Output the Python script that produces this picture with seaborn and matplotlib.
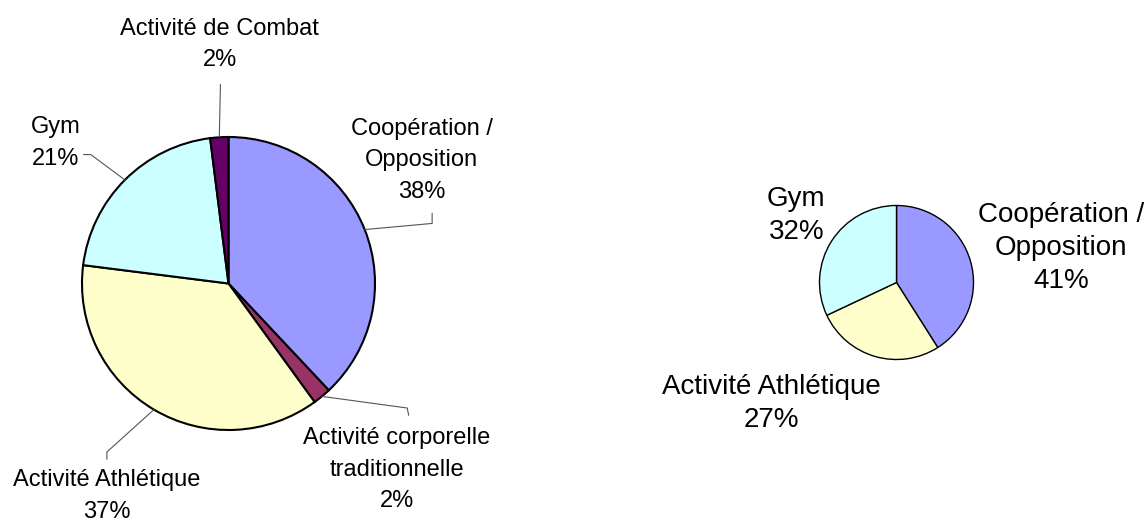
import numpy as np
import matplotlib
matplotlib.use('Agg')
import matplotlib.pyplot as plt
import seaborn as sns

# left pie: all activities
left_labels = ['Coopération /\nOpposition', 'Activité corporelle\ntraditionnelle',
               'Activité Athlétique', 'Gym', 'Activité de Combat']
left_values = [38, 2, 37, 21, 2]
left_colors = ['#9999FF', '#993366', '#FFFFCC', '#CCFFFF', '#660066']

# right pie: three main activities
right_labels = ['Coopération /\nOpposition', 'Activité Athlétique', 'Gym']
right_values = [41, 27, 32]
right_colors = ['#9999FF', '#FFFFCC', '#CCFFFF']

sns.set_style('white')
plt.rcParams['font.family'] = ['Liberation Sans', 'DejaVu Sans']
plt.rcParams['text.color'] = 'black'

W, H = 1147, 522
fig = plt.figure(figsize=(W / 100, H / 100), dpi=100)


def pie_axes(cx, cy, r):
    # cx, cy, r in pixels (top-left origin)
    return fig.add_axes([(cx - r) / W, (H - cy - r) / H, 2 * r / W, 2 * r / H])


def draw_pie(ax, values, colors, lw):
    wedges, _ = ax.pie(values, colors=colors, startangle=90, counterclock=False,
                       radius=1, wedgeprops=dict(edgecolor='black', linewidth=lw))
    ax.set_xlim(-1, 1)
    ax.set_ylim(-1, 1)
    ax.axis('off')
    return wedges


# ---- left pie ----
ax1 = pie_axes(228.5, 283.5, 146.5)
wedges = draw_pie(ax1, left_values, left_colors, 1.5)

# label position, then leader points (elbow, end) in radius units
left_layout = [
    ((1.32, 0.84), [(1.39, 0.41), (1.39, 0.48)]),
    ((1.15, -1.27), [(1.22, -0.85), (1.23, -0.90)]),
    ((-0.83, -1.45), [(-0.83, -1.15), (-0.83, -1.20)]),
    ((-1.18, 0.96), [(-0.94, 0.88), (-0.99, 0.88)]),
    ((-0.06, 1.63), [(-0.055, 1.36)]),
]
for w, lab, val, (pos, pts) in zip(wedges, left_labels, left_values, left_layout):
    mid = np.deg2rad((w.theta1 + w.theta2) / 2)
    xs = [np.cos(mid)] + [p[0] for p in pts]
    ys = [np.sin(mid)] + [p[1] for p in pts]
    ax1.plot(xs, ys, color='#555555', lw=0.8, clip_on=False)
    ax1.text(pos[0], pos[1], f'{lab}\n{val}%', ha='center', va='center',
             fontsize=17, linespacing=1.55, clip_on=False)

# ---- right pie ----
ax2 = pie_axes(896.5, 282.5, 77)
wedges = draw_pie(ax2, right_values, right_colors, 1.0)

right_pos = [(2.14, 0.45), (-1.62, -1.57), (-1.30, 0.87)]
for lab, val, pos in zip(right_labels, right_values, right_pos):
    ax2.text(pos[0], pos[1], f'{lab}\n{val}%', ha='center', va='center',
             fontsize=20, linespacing=1.35, clip_on=False)

fig.savefig('out.png', dpi=100)
